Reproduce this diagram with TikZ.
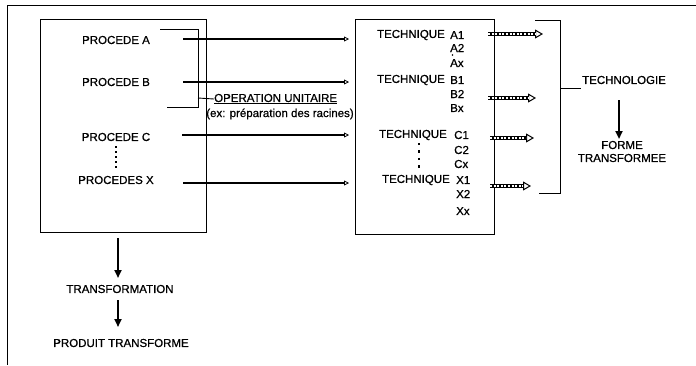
\documentclass[tikz,border=0pt]{standalone}
\usepackage{fontspec}
\setmainfont{Liberation Sans}
\newfontfamily\scanfont[FakeBold=0.8]{Liberation Sans}
\usetikzlibrary{arrows.meta}
\begin{document}
\begin{tikzpicture}[x=1pt,y=-1pt,
  lbl/.style={font=\scanfont\fontsize{11.5}{13}\selectfont, inner sep=0pt},
  box/.style={line width=1pt},
  thin/.style={line width=0.9pt},
  flow/.style={line width=2pt, -{Triangle[open,length=5pt,width=5pt,line width=0.8pt]}},
  hollowout/.style={line width=3.6pt, -{Triangle[open,length=8pt,width=9pt,line width=1pt]}},
  hollowin/.style={white, line width=1.4pt, dash pattern=on 2pt off 1.6pt, shorten >=8pt},
  down/.style={line width=2.6pt, -{Triangle[length=8pt,width=7pt]}},
  dots/.style={line width=2.6pt, dash pattern=on 2.4pt off 2.6pt}
]
\useasboundingbox (0,0) rectangle (696,365);
% outer frame (top and left only)
\draw[box] (696,5) -- (7,5) -- (7,365);
% boxes
\draw[box] (40,19) rectangle (206,232);
\draw[box] (355,19) rectangle (494,234);

% left texts
\node[lbl] (pa) at (116,40) {PROCEDE A};
\node[lbl] (pb) at (116,82) {PROCEDE B};
\node[lbl] (pc) at (116,137) {PROCEDE C};
\node[lbl] (px) at (116,180) {PROCEDES X};
\draw[dots] (116,146) -- (116,169);

% right texts
\node[lbl, anchor=east] (ta) at (445,35) {TECHNIQUE};
\node[lbl, anchor=west] (a1) at (450,35) {A1};
\node[lbl, anchor=west] (a2) at (450,48) {A2};
\node[lbl, anchor=west] (ax) at (450,63) {Ax};
\fill (452.5,55) circle (0.8pt);
\node[lbl, anchor=east] (tb) at (445,80) {TECHNIQUE};
\node[lbl, anchor=west] (b1) at (450,80) {B1};
\node[lbl, anchor=west] (b2) at (450,94) {B2};
\node[lbl, anchor=west] (bx) at (450,108) {Bx};
\node[lbl, anchor=east] (tc) at (447,135) {TECHNIQUE};
\node[lbl, anchor=west] (c1) at (454,135) {C1};
\node[lbl, anchor=west] (c2) at (454,150) {C2};
\node[lbl, anchor=west] (cx) at (454,164) {Cx};
\draw[line width=2.4pt, dash pattern=on 2.4pt off 5pt] (419,143) -- (419,168);
\node[lbl, anchor=east] (tx) at (450,180) {TECHNIQUE};
\node[lbl, anchor=west] (x1) at (456,180) {X1};
\node[lbl, anchor=west] (x2) at (456,194) {X2};
\node[lbl, anchor=west] (xx) at (456,211) {Xx};

% left-to-right arrows
\coordinate (sa) at (183,39);  \coordinate (ea) at (349,39);
\coordinate (sb) at (183,82);  \coordinate (eb) at (349,82);
\coordinate (sc) at (182,135); \coordinate (ec) at (349,135);
\coordinate (sx) at (183,183); \coordinate (ex) at (349,183);
\draw[flow] (sa) -- (ea);
\draw[flow] (sb) -- (eb);
\draw[flow] (sc) -- (ec);
\draw[flow] (sx) -- (ex);

% operation unitaire bracket
\draw[thin] (160,29) -- (198,29) -- (198,107) -- (167,107);
\coordinate (ot) at (198,98);
\node[lbl, anchor=west] (op) at (214,99) {\underline{OPERATION UNITAIRE}};
\draw[thin] (ot) -- (op.west);
\node[lbl] (exn) at (280,114) {(ex: préparation des racines)};

% hollow arrows
\coordinate (ha1) at (488,34); \coordinate (he1) at (543,34);
\coordinate (ha2) at (488,98); \coordinate (he2) at (536,98);
\coordinate (ha3) at (490,138); \coordinate (he3) at (534,138);
\coordinate (ha4) at (490,186); \coordinate (he4) at (531,186);
\foreach \i in {1,2,3,4} {
  \draw[hollowout] (ha\i) -- (he\i);
  \draw[hollowin] (ha\i) -- (he\i);
}

% technologie bracket
\draw[thin] (535,20) -- (560,20) -- (560,193) -- (539,193);
\coordinate (tt) at (560,88);
\node[lbl, anchor=west] (techno) at (582,80) {TECHNOLOGIE};
\draw[thin] (tt) -- (581,88);
\node[lbl] (forme) at (622,145) {FORME};
\node[lbl] (tf) at (622,158) {TRANSFORMEE};
\coordinate (d0) at (619,100);
\coordinate (d1) at (619,139);
\draw[down] (d0) -- (d1);

% bottom chain
\node[lbl] (trans) at (120,289) {TRANSFORMATION};
\node[lbl] (prod) at (121,343) {PRODUIT TRANSFORME};
\coordinate (b0) at (118,238);
\coordinate (b1) at (118,278);
\coordinate (b2) at (118,300);
\coordinate (b3) at (118,327);
\draw[down] (b0) -- (b1);
\draw[down] (b2) -- (b3);
\end{tikzpicture}
\end{document}
